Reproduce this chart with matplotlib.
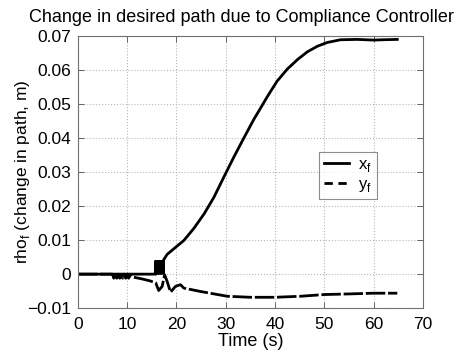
import matplotlib
matplotlib.use("Agg")
import matplotlib.pyplot as plt
from matplotlib.lines import Line2D

plt.rcParams['font.family'] = ['Liberation Sans', 'DejaVu Sans']

# x_f: path change along x (m)
t_x = [0.0, 15.7, 15.8, 15.9, 16.0, 16.1, 16.2, 16.3, 16.4, 16.5, 16.6, 16.7,
       16.8, 16.9, 17.0, 17.1, 17.2, 17.3, 17.4, 18.1, 19.5, 21.5, 23.5, 25.6,
       27.6, 29.6, 31.6, 33.7, 35.7, 37.1, 38.4, 40.4, 42.5, 44.5, 46.5, 48.6,
       50.6, 53.3, 56.7, 60.0, 62.0, 64.8]
x_f = [0.0, 0.0, 0.0040, 0.0, 0.0040, 0.0, 0.0040, 0.0, 0.0040, 0.0, 0.0040,
       0.0, 0.0040, 0.0, 0.0040, 0.0, 0.0040, 0.0, 0.0042, 0.0058, 0.0075,
       0.0099, 0.0134, 0.0177, 0.0226, 0.0285, 0.0343, 0.0401, 0.0455, 0.0489,
       0.0521, 0.0567, 0.0603, 0.0630, 0.0653, 0.0670, 0.0681, 0.0689, 0.0690,
       0.0688, 0.0689, 0.0690]

# y_f: path change along y (m)
t_y = [0.0, 7.0, 7.3, 7.6, 7.9, 8.2, 8.5, 8.8, 9.1, 9.4, 9.7, 10.0, 10.3, 10.6,
       11.0, 13.0, 14.7, 15.8, 16.4, 17.1, 17.6, 18.1, 18.8, 19.8, 20.8, 21.5,
       24.9, 30.3, 35.0, 40.0, 45.2, 49.9, 55.3, 60.0, 64.8]
y_f = [0.0, 0.0, -0.0012, 0.0, -0.0012, 0.0, -0.0012, -0.0002, -0.0012, 0.0,
       -0.0012, 0.0, -0.0012, -0.0003, -0.0008, -0.0014, -0.0020, -0.0026,
       -0.0048, -0.0036, -0.0002, -0.0021, -0.0053, -0.0036, -0.0031, -0.0041,
       -0.0051, -0.0065, -0.0068, -0.0068, -0.0065, -0.0060, -0.0058, -0.0056,
       -0.0056]

x_ticks = [0, 10, 20, 30, 40, 50, 60, 70]
y_ticks = [-0.01, 0, 0.01, 0.02, 0.03, 0.04, 0.05, 0.06, 0.07]
y_tick_labels = ['\u22120.01', '0', '0.01', '0.02', '0.03', '0.04', '0.05', '0.06', '0.07']

fig = plt.figure(figsize=(4.72, 3.53), dpi=100)
ax = fig.add_axes([0.165, 0.127, 0.731, 0.771])

ax.plot(t_x, x_f, color='black', lw=2.0, solid_joinstyle='miter')
ax.plot(t_y, y_f, color='black', lw=2.0, dashes=(7, 1))

ax.set_xlim(0, 70)
ax.set_ylim(-0.01, 0.07)
ax.set_xticks(x_ticks)
ax.set_yticks(y_ticks)
ax.set_yticklabels(y_tick_labels)
ax.tick_params(direction='in', top=True, right=True, length=4, width=0.6,
               labelsize=12.5, color='#505050')
ax.tick_params(axis='y', pad=5)
ax.tick_params(axis='x', pad=6)
for s in ax.spines.values():
    s.set_color('#707070')
    s.set_linewidth(0.8)
ax.grid(True, linestyle=':', color='#b8b8b8', linewidth=0.8)

title = ax.set_title('Change in desired path due to Compliance Controller',
                     fontsize=13, pad=10)
title.set_x(0.475)
ax.set_xlabel('Time (s)', fontsize=13, labelpad=1)
ax.set_ylabel('rho$_\\mathregular{f}$ (change in path, m)', fontsize=12.5, labelpad=-4)

handles = [Line2D([], [], color='black', lw=2.0),
           Line2D([], [], color='black', lw=2.0, dashes=(3, 2))]
ax.legend(handles, ['x$_\\mathregular{f}$', 'y$_\\mathregular{f}$'],
          loc='lower left', bbox_to_anchor=(0.70, 0.40, 0.167, 0.17), mode='expand',
          borderaxespad=0, fontsize=12, frameon=True, fancybox=False,
          edgecolor='#707070', handlelength=1.5, handletextpad=0.5,
          borderpad=0.3, labelspacing=0.2)
ax.get_legend().get_frame().set_linewidth(0.8)

fig.savefig('out.png', dpi=100)
